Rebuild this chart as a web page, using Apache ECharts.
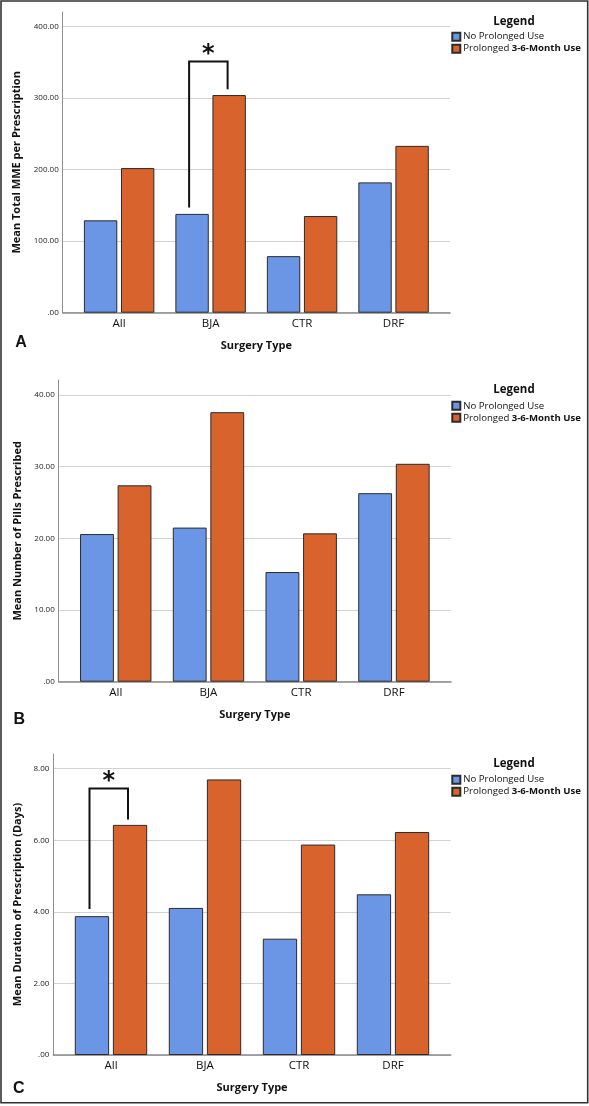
<!DOCTYPE html>
<html><head><meta charset="utf-8">
<script src="https://cdn.jsdelivr.net/npm/echarts@6/dist/echarts.min.js"></script>
<style>html,body{margin:0;padding:0;background:#fff}#c{width:589px;height:1106px}</style>
</head><body><div id="c"></div>
<script>
// ---- data ----
const categories = ['All', 'BJA', 'CTR', 'DRF'];
const seriesNames = ['No Prolonged Use', 'Prolonged 3-6-Month Use'];
const mmeNo = [129, 138, 79, 182];
const mmePro = [202, 304, 135, 233];
const pillsNo = [20.6, 21.5, 15.3, 26.3];
const pillsPro = [27.4, 37.6, 20.7, 30.4];
const daysNo = [3.88, 4.11, 3.25, 4.49];
const daysPro = [6.43, 7.70, 5.88, 6.23];
const mmeTicks = [0, 100, 200, 300, 400];
const pillsTicks = [0, 10, 20, 30, 40];
const daysTicks = [0, 2, 4, 6, 8];
const yTitles = ['Mean Total MME per Prescription', 'Mean Number of Pills Prescribed', 'Mean Duration of Prescription (Days)'];
const xTitle = 'Surgery Type';
const panelLetters = ['A', 'B', 'C'];
const legendTitle = 'Legend';
// significance brackets: [category index, left foot value, top value, right foot value]
const sigA = [1, 147, 351, 312];
const sigB = null;
const sigC = [0, 4.08, 7.45, 6.58];

// ---- layout / style ----
const W = 589, H = 1106, PAD = 10.7;
const FONT = '"Open Sans", sans-serif';
const BLUE = '#6b96e6', ORANGE = '#d9632c', EDGE = '#2b2b2b';
const panels = [
  {no: mmeNo, pro: mmePro, ticks: mmeTicks, sig: sigA, axisX: 62.7, rightX: 450, axisTop: 12, tickTop: 26.3, zeroY: 312.7, titleGap: 38.4, legendTitleY: 21.3, legendTop: 30.7, letter: [21, 343]},
  {no: pillsNo, pro: pillsPro, ticks: pillsTicks, sig: sigB, axisX: 58.7, rightX: 451, axisTop: 380, tickTop: 395, zeroY: 681.7, titleGap: 33.4, legendTitleY: 390, legendTop: 399.8, letter: [19.2, 720]},
  {no: daysNo, pro: daysPro, ticks: daysTicks, sig: sigC, axisX: 53.3, rightX: 450.7, axisTop: 754, tickTop: 768.7, zeroY: 1055, titleGap: 28, legendTitleY: 764, legendTop: 773.7, letter: [18.7, 1089]}
];

const grid = [], xAxis = [], yAxis = [], series = [], legend = [], graphic = [];
panels.forEach((p, i) => {
  const g0 = 3 * i, g1 = 3 * i + 1, g2 = 3 * i + 2;
  const tmax = p.ticks[p.ticks.length - 1], tint = p.ticks[1] - p.ticks[0];
  // frame grid (y axis line + y title)
  grid.push({left: p.axisX, right: W - p.rightX, top: p.axisTop, bottom: H - p.zeroY, outerBoundsMode: 'none', containLabel: false});
  xAxis.push({type: 'category', gridIndex: g0, data: categories, show: true, axisLine: {show: false}, axisTick: {show: false}, axisLabel: {show: false}, splitLine: {show: false}});
  yAxis.push({type: 'value', gridIndex: g0, min: 0, max: 1, axisLine: {show: true, lineStyle: {color: '#8f8f8f', width: 1}}, axisTick: {show: false}, axisLabel: {show: false}, splitLine: {show: false},
    name: yTitles[i], nameLocation: 'middle', nameRotate: 90, nameGap: p.titleGap,
    nameTextStyle: {fontFamily: FONT, fontWeight: 'bold', fontSize: 11, color: '#111', lineHeight: 14}});
  // tick grid (gridlines, tick labels, x axis line, x title)
  grid.push({left: p.axisX, right: W - p.rightX, top: p.tickTop, bottom: H - p.zeroY, outerBoundsMode: 'none', containLabel: false});
  xAxis.push({type: 'category', gridIndex: g1, data: categories, axisLine: {show: true, lineStyle: {color: '#8a8a8a', width: 1.6}}, axisTick: {show: false}, axisLabel: {show: false}, splitLine: {show: false},
    name: xTitle, nameLocation: 'middle', nameGap: 26,
    nameTextStyle: {fontFamily: FONT, fontWeight: 'bold', fontSize: 11, color: '#111', lineHeight: 14}});
  yAxis.push({type: 'value', gridIndex: g1, min: 0, max: tmax, interval: tint, axisLine: {show: false}, axisTick: {show: false},
    axisLabel: {fontFamily: FONT, fontSize: 8, color: '#222', margin: 4, formatter: v => v === 0 ? '.00' : v.toFixed(2)},
    splitLine: {show: true, lineStyle: {color: '#d2d2d2', width: 1}}});
  // bar grid
  grid.push({left: p.axisX + PAD, right: W - p.rightX + PAD, top: p.tickTop, bottom: H - p.zeroY, outerBoundsMode: 'none', containLabel: false});
  xAxis.push({type: 'category', gridIndex: g2, data: categories, axisLine: {show: false}, axisTick: {show: false},
    axisLabel: {fontFamily: FONT, fontSize: 11.5, color: '#111', margin: 5, lineHeight: 12}, splitLine: {show: false}});
  yAxis.push({type: 'value', gridIndex: g2, min: 0, max: tmax, show: false});
  [p.no, p.pro].forEach((d, k) => {
    series.push({type: 'bar', name: seriesNames[k], xAxisIndex: g2, yAxisIndex: g2, data: d,
      barWidth: '36.5%', barGap: '11%',
      itemStyle: {color: k === 0 ? BLUE : ORANGE, borderColor: EDGE, borderWidth: 1}, emphasis: {disabled: true}});
  });
  if (p.sig) {
    series.push({type: 'custom', xAxisIndex: g2, yAxisIndex: g2, data: [p.sig], encode: {x: 0, y: [1, 2, 3]}, clip: false, z: 5,
      renderItem: (params, api) => {
        const c = api.value(0);
        const a = api.coord([c, api.value(1)]);
        const t = api.coord([c, api.value(2)]);
        const b = api.coord([c, api.value(3)]);
        const xl = a[0] - 21.5, xr = a[0] + 17;
        return {type: 'group', children: [
          {type: 'polyline', shape: {points: [[xl, a[1]], [xl, t[1]], [xr, t[1]], [xr, b[1]]]}, style: {stroke: '#111', lineWidth: 2, fill: null}},
          {type: 'text', x: (xl + xr) / 2, y: t[1] - 7, style: {text: '*', font: 'bold 24px "DejaVu Sans"', textAlign: 'center', textVerticalAlign: 'middle', fill: '#111'}}
        ]};
      }});
  }
  legend.push({left: 451.3, top: p.legendTop, orient: 'vertical', padding: 0, itemGap: 0, itemWidth: 8, itemHeight: 8, icon: 'rect', selectedMode: false,
    data: seriesNames,
    formatter: n => n === seriesNames[1] ? 'Prolonged {b|3-6-Month Use}' : n,
    textStyle: {fontFamily: FONT, fontSize: 9.6, color: '#111', lineHeight: 12, padding: [0, 0, 0, -2],
      rich: {b: {fontFamily: FONT, fontSize: 9.6, fontWeight: 'bold', color: '#111', lineHeight: 12}}}});
  graphic.push({type: 'text', x: 514, y: p.legendTitleY, style: {text: legendTitle, font: 'bold 11.5px ' + FONT, textAlign: 'center', textVerticalAlign: 'middle', fill: '#111'}});
  graphic.push({type: 'text', x: p.letter[0], y: p.letter[1], style: {text: panelLetters[i], font: 'bold 16px "Liberation Sans"', textAlign: 'center', textVerticalAlign: 'middle', fill: '#111'}});
});
graphic.push({type: 'rect', shape: {x: 1, y: 1, width: 586.7, height: 1101.7}, style: {fill: null, stroke: '#333', lineWidth: 1.6}, z: 100});

const chart = echarts.init(document.getElementById('c'), null, {renderer: 'canvas'});
chart.setOption({animation: false, backgroundColor: '#fff', grid, xAxis, yAxis, series, legend, graphic});
</script></body></html>
